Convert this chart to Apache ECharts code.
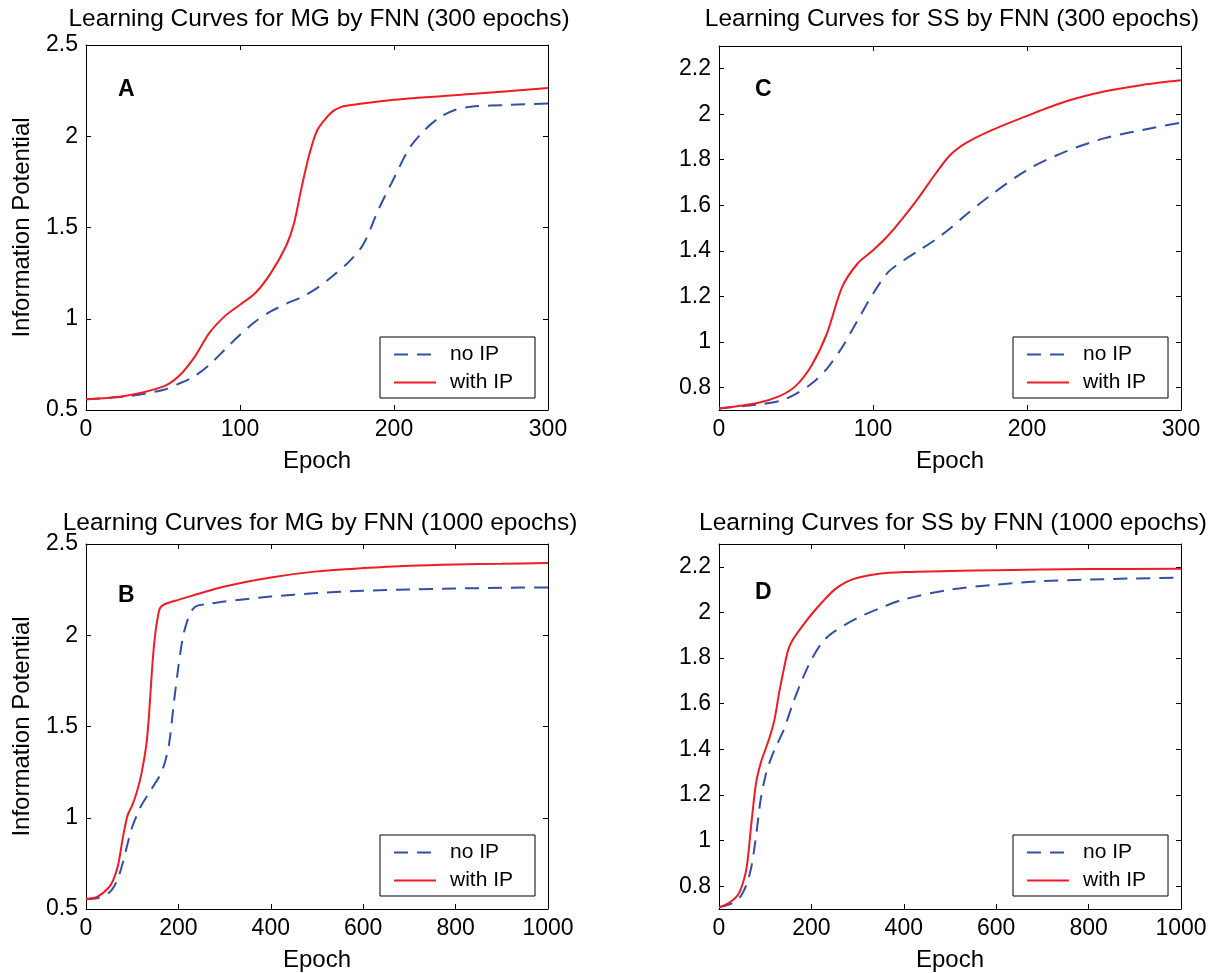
<!DOCTYPE html>
<html>
<head>
<meta charset="utf-8">
<script src="https://cdn.jsdelivr.net/npm/echarts@6/dist/echarts.min.js"></script>
<style>
html,body{margin:0;padding:0;background:#fff;}
#chart{width:1210px;height:973px;}
</style>
</head>
<body>
<div id="chart"></div>
<script>
// ---------- DATA ----------
const seriesNames = ['no IP', 'with IP'];
const panelTitles = [
  'Learning Curves for MG by FNN (300 epochs)',
  'Learning Curves for SS by FNN (300 epochs)',
  'Learning Curves for MG by FNN (1000 epochs)',
  'Learning Curves for SS by FNN (1000 epochs)'
];
const panelLetters = ['A', 'C', 'B', 'D'];
const xAxisName = 'Epoch';
const yAxisName = 'Information Potential';
const ssTickValues = [0.8, 1, 1.2, 1.4, 1.6, 1.8, 2, 2.2];

// Panel A: MG, 300 epochs
const aEpochNo = [0,25,50,60,70,80,90,100,110,120,130,140,150,160,170,180,190,200,210,220,230,240,250,275,300];
const aNoIP = [0.559,0.573,0.61,0.643,0.683,0.747,0.83,0.912,0.985,1.04,1.082,1.119,1.168,1.233,1.306,1.407,1.6,1.77,1.935,2.035,2.105,2.145,2.162,2.172,2.18];
const aEpochWith = [0,25,50,60,70,80,90,100,110,120,130,135,140,145,150,155,160,165,170,200,250,300];
const aWithIP = [0.559,0.577,0.628,0.683,0.784,0.921,1.013,1.077,1.141,1.25,1.40,1.52,1.72,1.90,2.03,2.09,2.135,2.158,2.168,2.2,2.232,2.264];

// Panel C: SS, 300 epochs
const cEpoch = [0,25,40,50,60,70,80,90,100,110,120,130,140,150,160,175,200,225,250,275,300];
const cNoIP = [0.707,0.724,0.741,0.771,0.815,0.881,0.976,1.094,1.211,1.307,1.358,1.402,1.446,1.498,1.556,1.637,1.755,1.836,1.894,1.931,1.963];
const cWithIP = [0.707,0.731,0.763,0.807,0.895,1.035,1.241,1.344,1.402,1.468,1.549,1.637,1.733,1.82,1.872,1.924,1.993,2.056,2.1,2.129,2.149];

// Panel B: MG, 1000 epochs
const bEpochNo = [0,25,50,60,70,80,90,100,110,120,140,160,170,180,190,200,210,220,230,240,260,300,400,500,600,700,800,900,1000];
const bNoIP = [0.555,0.56,0.59,0.62,0.674,0.756,0.857,0.949,1.013,1.068,1.15,1.233,1.297,1.407,1.626,1.828,1.993,2.084,2.139,2.161,2.17,2.185,2.212,2.231,2.244,2.251,2.256,2.26,2.262];
const bEpochWith = [0,25,50,60,70,80,90,100,110,120,130,135,140,145,150,155,160,170,200,300,400,500,600,700,800,900,1000];
const bWithIP = [0.555,0.568,0.619,0.665,0.747,0.894,1.013,1.068,1.141,1.242,1.388,1.516,1.70,1.883,2.01,2.093,2.148,2.17,2.194,2.267,2.317,2.35,2.368,2.381,2.388,2.392,2.396];

// Panel D: SS, 1000 epochs
const dEpochNo = [0,20,40,50,60,70,80,90,100,110,120,140,160,180,200,225,250,300,350,400,500,600,700,800,900,1000];
const dNoIP = [0.708,0.718,0.74,0.766,0.81,0.884,1.016,1.177,1.279,1.345,1.397,1.485,1.602,1.705,1.793,1.873,1.917,1.976,2.02,2.057,2.1,2.122,2.137,2.144,2.149,2.152];
const dEpochWith = [0,20,40,50,60,70,80,90,100,110,120,130,140,150,160,180,200,225,250,275,300,350,400,500,600,800,1000];
const dWithIP = [0.708,0.725,0.759,0.803,0.884,1.074,1.25,1.338,1.397,1.455,1.529,1.646,1.749,1.837,1.881,1.939,1.991,2.049,2.1,2.133,2.152,2.171,2.177,2.182,2.185,2.19,2.191];

// ---------- LAYOUT / STYLE ----------
const FONT = "'Liberation Sans', Arial, Helvetica, sans-serif";
const RED = '#ee1d25';
const BLUE = '#3150a6';

const grids = [
  {left: 86, top: 45, width: 462, height: 365},   // A
  {left: 719, top: 46, width: 462, height: 364},  // C
  {left: 86, top: 544, width: 462, height: 366},  // B
  {left: 719, top: 544, width: 462, height: 366}  // D
];
const xMax = [300, 300, 1000, 1000];
const xInt = [100, 100, 200, 200];
const isMG = [true, false, true, false];
const legendPos = [[380, 337], [1013, 337], [380, 835], [1013, 835]];
const letterPos = [[118, 78], [755, 78], [118, 584], [755, 581]];
const titlePos = [[319, 19], [952, 19], [320, 523], [953, 523]];

const panelData = [
  [[aEpochNo, aNoIP], [aEpochWith, aWithIP]],
  [[cEpoch, cNoIP], [cEpoch, cWithIP]],
  [[bEpochNo, bNoIP], [bEpochWith, bWithIP]],
  [[dEpochNo, dNoIP], [dEpochWith, dWithIP]]
];

const axisLine = {show: true, onZero: false, lineStyle: {color: '#000', width: 1}};
const tick = {show: true, inside: true, length: 5, lineStyle: {color: '#000', width: 1}};
const lbl = {color: '#000', fontSize: 23, fontFamily: FONT, margin: 8, formatter: v => String(v)};

const xAxes = [], yAxes = [], series = [], legends = [], graphics = [];

grids.forEach((g, i) => {
  xAxes.push({
    type: 'value', gridIndex: i, position: 'bottom', min: 0, max: xMax[i], interval: xInt[i],
    axisLine, axisTick: tick, axisLabel: lbl, splitLine: {show: false},
    name: xAxisName, nameLocation: 'middle', nameGap: 39,
    nameTextStyle: {color: '#000', fontSize: 24, fontFamily: FONT}
  });
  xAxes.push({
    type: 'value', gridIndex: i, position: 'top', min: 0, max: xMax[i], interval: xInt[i],
    axisLine, axisTick: tick, axisLabel: {show: false}, splitLine: {show: false}
  });
  let yBase;
  if (isMG[i]) {
    yBase = {min: 0.5, max: 2.5, interval: 0.5};
  } else {
    yBase = {min: 0.7, max: 2.3};
  }
  const yLbl = Object.assign({}, lbl);
  const yTick = Object.assign({}, tick);
  if (!isMG[i]) { yLbl.customValues = ssTickValues; yTick.customValues = ssTickValues; }
  yAxes.push(Object.assign({
    type: 'value', gridIndex: i, position: 'left',
    axisLine, axisTick: yTick, axisLabel: yLbl, splitLine: {show: false},
    name: isMG[i] ? yAxisName : '', nameLocation: 'middle', nameGap: 52,
    nameTextStyle: {color: '#000', fontSize: 24, fontFamily: FONT}
  }, yBase));
  yAxes.push(Object.assign({
    type: 'value', gridIndex: i, position: 'right',
    axisLine, axisTick: Object.assign({}, yTick), axisLabel: {show: false}, splitLine: {show: false}
  }, yBase));

  panelData[i].forEach((pair, k) => {
    const xs = pair[0], ys = pair[1];
    series.push({
      name: seriesNames[k], type: 'line', xAxisIndex: 2 * i, yAxisIndex: 2 * i,
      data: xs.map((x, j) => [x, ys[j]]),
      showSymbol: false, symbol: 'none', smooth: 0.3,
      lineStyle: k === 0 ? {color: BLUE, width: 2, type: [14, 9]} : {color: RED, width: 2, type: 'solid'},
      itemStyle: {color: k === 0 ? BLUE : RED},
      clip: true, animation: false, z: k === 0 ? 2 : 3
    });
  });

  legends.push({
    left: legendPos[i][0], top: legendPos[i][1], orient: 'vertical',
    data: seriesNames, selectedMode: false,
    backgroundColor: '#fff', borderColor: '#000', borderWidth: 1,
    padding: [7, 22, 5, 13], itemGap: 7, itemWidth: 42, itemHeight: 14,
    itemStyle: {color: 'rgba(0,0,0,0)', opacity: 0, borderWidth: 0},
    textStyle: {color: '#000', fontSize: 21, fontFamily: FONT, padding: [0, 0, 0, 9]}
  });

  graphics.push({
    type: 'text', x: titlePos[i][0], y: titlePos[i][1],
    style: {text: panelTitles[i], fill: '#000', font: '24.5px ' + FONT, textAlign: 'center', textVerticalAlign: 'middle'}
  });
  graphics.push({
    type: 'text', x: letterPos[i][0], y: letterPos[i][1],
    style: {text: panelLetters[i], fill: '#000', font: 'bold 23px ' + FONT, textAlign: 'left', textVerticalAlign: 'top'}
  });
});

const chart = echarts.init(document.getElementById('chart'), null, {renderer: 'canvas'});
chart.setOption({
  backgroundColor: '#fff',
  animation: false,
  grid: grids.map(g => Object.assign({containLabel: false}, g)),
  xAxis: xAxes,
  yAxis: yAxes,
  legend: legends,
  series: series,
  graphic: graphics
});
</script>
</body>
</html>
